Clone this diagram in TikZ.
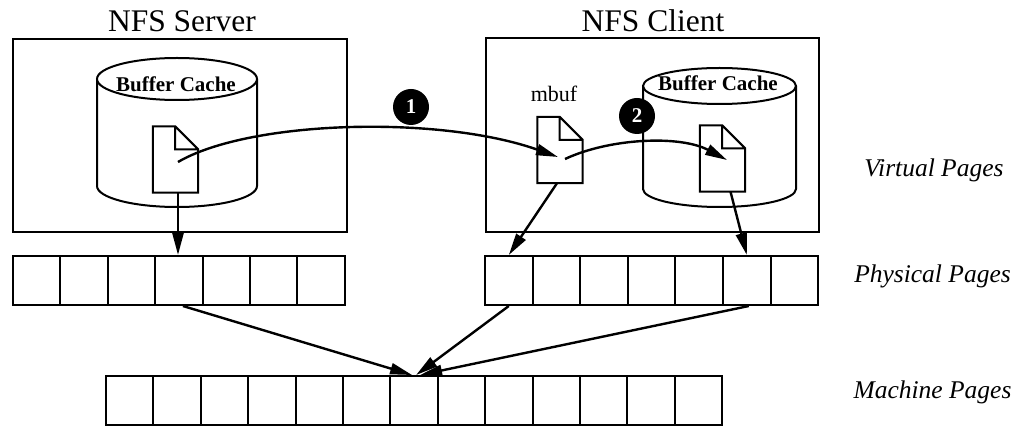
\documentclass[tikz,border=0pt]{standalone}
\usepackage{fontspec}
\setmainfont{Liberation Serif}
\usetikzlibrary{arrows.meta,calc}
\newcommand\docoutline[1]{%
  \draw[docline] (#1.south west) -- (#1.north west) -- ([xshift=-23pt]#1.north east)
    -- ([yshift=-23pt]#1.north east) -- (#1.south east) -- cycle
    ([xshift=-23pt]#1.north east) -- ([xshift=-23pt,yshift=-23pt]#1.north east)
    -- ([yshift=-23pt]#1.north east);}
\begin{document}
\begin{tikzpicture}[x=1pt,y=-1pt,
  frame/.style={draw, line width=2pt, rectangle, inner sep=0pt},
  cell/.style={draw, line width=2pt, rectangle, minimum width=47.4pt, minimum height=49pt, inner sep=0pt},
  docbody/.style={rectangle, fill=white, minimum width=45pt, minimum height=66pt, inner sep=0pt},
  docline/.style={line width=2pt, line join=miter},
  cyl/.style={line width=2pt, fill=white},
  link/.style={line width=2.4pt, -{Triangle[length=22pt,width=11pt]}},
  marker/.style={circle, fill=black, minimum size=36pt, inner sep=0pt, text=white, font=\fontsize{21}{21}\selectfont\bfseries},
  title/.style={font=\fontsize{31.5}{31.5}\selectfont, anchor=base},
  cache/.style={font=\fontsize{21}{21}\selectfont\bfseries},
  level/.style={font=\fontsize{25.5}{25.5}\selectfont\itshape, anchor=base}
]
\useasboundingbox (0,0) rectangle (1014,427);

% host boxes and titles
\node[frame, minimum width=334pt, minimum height=193pt] (srvbox) at (180,135.5) {};
\node[frame, minimum width=333pt, minimum height=194pt] (clibox) at (652.5,135) {};
\node[title] (srvtitle) at (182,32) {NFS Server};
\node[title] (clititle) at (653,32) {NFS Client};

% server buffer cache cylinder
\draw[cyl] (97,79) -- (97,186) arc[start angle=180, end angle=360, x radius=80pt, y radius=21pt] -- (257,79);
\draw[cyl] (177,79) ellipse [x radius=80pt, y radius=21pt];
\node[cache] (srvcache) at (176,84) {Buffer Cache};

% client buffer cache cylinder
\draw[cyl] (643,86) -- (643,189) arc[start angle=180, end angle=360, x radius=76.5pt, y radius=18pt] -- (796,86);
\draw[cyl] (719.5,86) ellipse [x radius=76.5pt, y radius=18pt];
\node[cache] (clicache) at (718,83) {Buffer Cache};

% documents
\node[docbody] (sdoc) at (175.5,159.5) {};
\docoutline{sdoc}
\node[docbody] (mdoc) at (560,150) {};
\docoutline{mdoc}
\node[font=\fontsize{22}{22}\selectfont, anchor=base] (mbuflbl) at (554,102) {mbuf};
\node[docbody] (cdoc) at (722.5,158.5) {};
\docoutline{cdoc}

% page rows
\foreach \i in {0,...,6} \node[cell] (sp\i) at ({13+47.4*(\i+0.5)},280.5) {};
\foreach \i in {0,...,6} \node[cell, minimum width=47.6pt] (cp\i) at ({485+47.6*(\i+0.5)},280.5) {};
\foreach \i in {0,...,12} \node[cell] (mp\i) at ({106+47.4*(\i+0.5)},400.5) {};

% connectors
\coordinate (a1s) at (178,162);
\coordinate (a1e) at (558,157);
\coordinate (a2s) at (565,159);
\coordinate (a2e) at (727,160);
\draw[link] (a1s) .. controls (250,120) and (440,115) .. (a1e);
\draw[link] (a2s) .. controls (610,138) and (680,135) .. (a2e);
\draw[link] ([xshift=2.5pt]sdoc.south) -- ([xshift=2.5pt]sdoc.south |- sp3.north);
\draw[link] ([xshift=-3pt]mdoc.south) -- (cp0.north);
\draw[link] ([xshift=8pt]cdoc.south) -- (cp5.north);
\draw[link] ([xshift=4pt]sp3.south) -- ([xshift=-2pt]mp6.north);
\draw[link] (cp0.south) -- ([xshift=2pt]mp6.north);
\draw[link] ([xshift=2pt]cp5.south) -- ([xshift=6pt]mp6.north);

% step markers
\node[marker] (m1) at (411,107) {1};
\node[marker] (m2) at (637,116) {2};

% level labels
\node[level] (lvirt) at (934,177) {Virtual Pages};
\node[level] (lphys) at (932.5,283) {Physical Pages};
\node[level] (lmach) at (932.5,398) {Machine Pages};
\end{tikzpicture}
\end{document}
